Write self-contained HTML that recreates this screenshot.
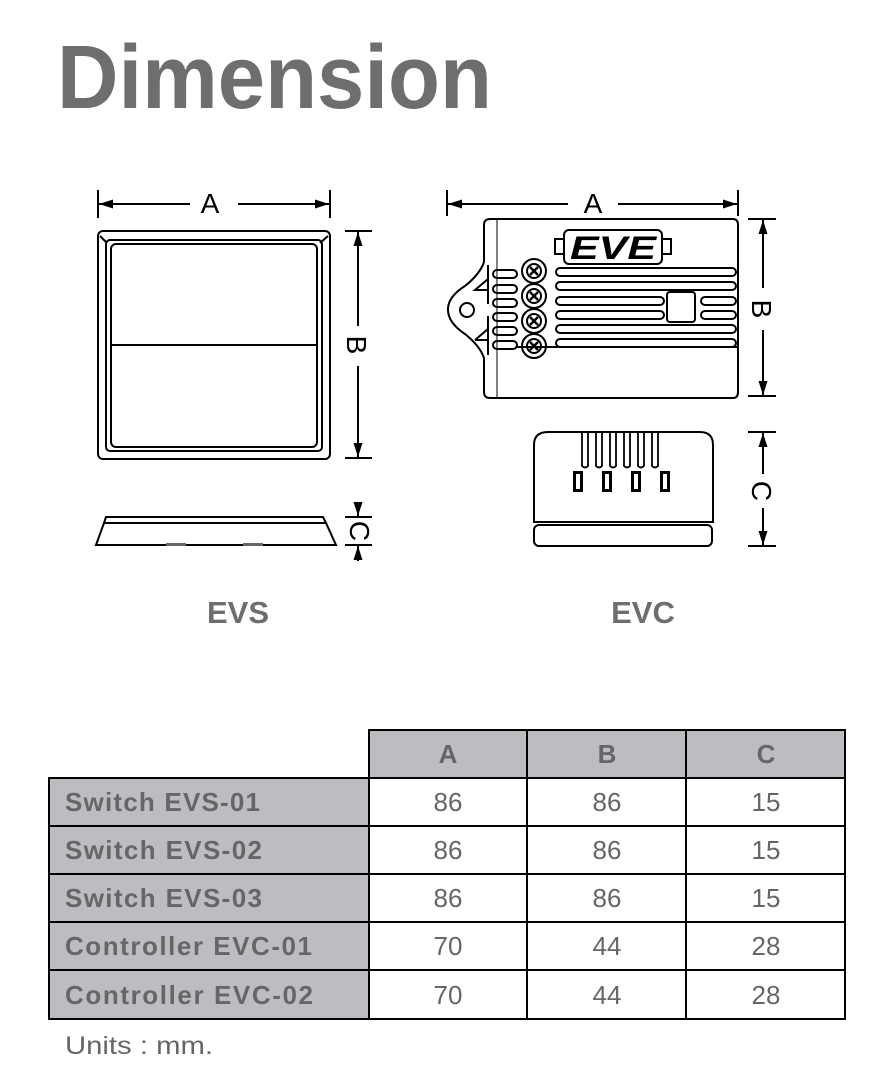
<!DOCTYPE html>
<html><head><style>
html,body{margin:0;padding:0;background:#fff;}
body{width:876px;height:1076px;position:relative;overflow:hidden;font-family:"Liberation Sans",sans-serif;}
</style></head><body>
<svg width="876" height="1076" viewBox="0 0 876 1076" xmlns="http://www.w3.org/2000/svg" style="position:absolute;left:0;top:0">
<defs>
<marker id="ar" viewBox="0 0 14 10" refX="14" refY="5" markerWidth="14" markerHeight="10" orient="auto-start-reverse" markerUnits="userSpaceOnUse"><path d="M0,0.5 L14,5 L0,9.5z" fill="#000"/></marker>
</defs>
<text x="57" y="108" font-size="90" font-weight="bold" fill="#6d6e70" textLength="435" lengthAdjust="spacingAndGlyphs">Dimension</text>

<g stroke="#000" fill="none" stroke-width="2">
<line x1="98" y1="190" x2="98" y2="218"/><line x1="330" y1="190" x2="330" y2="218"/>
<line x1="99" y1="204" x2="190" y2="204" marker-start="url(#ar)"/><line x1="238" y1="204" x2="329" y2="204" marker-end="url(#ar)"/>
<line x1="345" y1="231" x2="372" y2="231"/><line x1="345" y1="458" x2="372" y2="458"/>
<line x1="358" y1="232" x2="358" y2="326" marker-start="url(#ar)"/><line x1="358" y1="366" x2="358" y2="457" marker-end="url(#ar)"/>
<rect x="98" y="231" width="232" height="228" rx="5"/>
<rect x="106" y="240" width="216" height="211" rx="4"/>
<rect x="111" y="244" width="206" height="203" rx="5"/>
<line x1="111" y1="345" x2="317" y2="345"/>
<line x1="100" y1="236" x2="107" y2="243"/><line x1="328" y1="236" x2="320" y2="243"/>
<path d="M106,517 L323,517 L326,523 L104,523 Z"/>
<path d="M104,523 L326,523 L336,545 L96,545 Z"/>
<line x1="345" y1="517" x2="372" y2="517"/><line x1="345" y1="545" x2="372" y2="545"/>
<line x1="358" y1="502" x2="358" y2="516" marker-end="url(#ar)"/><line x1="358" y1="561" x2="358" y2="546" marker-end="url(#ar)"/>
</g>
<rect x="166" y="543" width="20" height="3" fill="#666"/><rect x="243" y="543" width="20" height="3" fill="#666"/>
<text x="210" y="213" font-size="28" text-anchor="middle" fill="#000">A</text>
<text transform="translate(347,345) rotate(90)" font-size="28" text-anchor="middle" fill="#000">B</text>
<text transform="translate(350,531) rotate(90)" font-size="28" text-anchor="middle" fill="#000">C</text>

<g stroke="#000" fill="none" stroke-width="2">
<line x1="447" y1="190" x2="447" y2="216"/><line x1="738" y1="190" x2="738" y2="216"/>
<line x1="448" y1="204" x2="568" y2="204" marker-start="url(#ar)"/><line x1="618" y1="204" x2="737" y2="204" marker-end="url(#ar)"/>
<line x1="748" y1="219" x2="776" y2="219"/><line x1="748" y1="396" x2="776" y2="396"/>
<line x1="763" y1="220" x2="763" y2="288" marker-start="url(#ar)"/><line x1="763" y1="330" x2="763" y2="395" marker-end="url(#ar)"/>
<line x1="748" y1="432" x2="776" y2="432"/><line x1="748" y1="546" x2="776" y2="546"/>
<line x1="763" y1="433" x2="763" y2="474" marker-start="url(#ar)"/><line x1="763" y1="508" x2="763" y2="545" marker-end="url(#ar)"/>
<path d="M490,219 L733,219 Q738,219 738,225 L738,392 Q738,398 733,398 L490,398 Q484,398 484,392 L484,358 Q480,346 465,334 Q447,322 448,308 Q449,296 465,286 Q480,274 484,262 L484,225 Q484,219 490,219 Z"/>
<line x1="497" y1="220" x2="497" y2="397" stroke-width="1"/>
<line x1="516" y1="347" x2="738" y2="347"/>
<circle cx="467" cy="310" r="7"/>
<path d="M488,279 L475,290 L488,290 Z M488,329 L475,340 L488,329 Z M488,329 L488,340 L475,340"/>
<rect x="564" y="230" width="98" height="34" rx="5"/>
<rect x="555" y="239" width="9" height="15"/><rect x="662" y="239" width="9" height="15"/>
<g stroke-width="2">
<rect x="493" y="270" width="24" height="8" rx="4"/><rect x="493" y="285" width="24" height="8" rx="4"/><rect x="493" y="299" width="24" height="8" rx="4"/><rect x="493" y="313" width="24" height="8" rx="4"/><rect x="493" y="327" width="24" height="8" rx="4"/><rect x="493" y="341" width="24" height="8" rx="4"/>
<line x1="488" y1="265" x2="488" y2="279"/><line x1="488" y1="290" x2="488" y2="304"/><line x1="488" y1="316" x2="488" y2="330"/><line x1="488" y1="341" x2="488" y2="355"/>
<circle cx="534" cy="271" r="12"/><circle cx="534" cy="296" r="12"/><circle cx="534" cy="321" r="12"/><circle cx="534" cy="346" r="12"/>
<circle cx="534" cy="271" r="7"/><circle cx="534" cy="296" r="7"/><circle cx="534" cy="321" r="7"/><circle cx="534" cy="346" r="7"/>
<rect x="556" y="268" width="180" height="8" rx="4"/>
<rect x="556" y="282" width="180" height="8" rx="4"/>
<rect x="556" y="297" width="108" height="8" rx="4"/>
<rect x="556" y="311" width="108" height="8" rx="4"/>
<rect x="556" y="325" width="180" height="8" rx="4"/>
<rect x="556" y="339" width="180" height="8" rx="4"/>
<rect x="701" y="297" width="35" height="8" rx="4"/><rect x="701" y="311" width="35" height="8" rx="4"/>
<rect x="667" y="292" width="28" height="30" rx="3"/>
</g>
<path d="M548,432 L700,432 Q713,432 713,445 L713,522 L534,522 L534,445 Q534,432 548,432 Z"/>
<rect x="534" y="525" width="178" height="21" rx="5"/>
<g stroke-width="1.8">
<path d="M582,432 L582,466 Q585,469 588,466 L588,432"/>
<path d="M596,432 L596,466 Q599,469 602,466 L602,432"/>
<path d="M610,432 L610,466 Q613,469 616,466 L616,432"/>
<path d="M624,432 L624,466 Q627,469 630,466 L630,432"/>
<path d="M638,432 L638,466 Q641,469 644,466 L644,432"/>
<path d="M652,432 L652,466 Q655,469 658,466 L658,432"/>
</g>
</g>
<g fill="#000">
<rect x="573" y="471" width="10" height="21"/><rect x="602" y="471" width="10" height="21"/><rect x="631" y="471" width="10" height="21"/><rect x="660" y="471" width="10" height="21"/>
</g>
<g fill="#fff"><rect x="576" y="474" width="4" height="15"/><rect x="605" y="474" width="4" height="15"/><rect x="634" y="474" width="4" height="15"/><rect x="663" y="474" width="4" height="15"/></g>
<g stroke="#000" stroke-width="2.4">
<path d="M530,267 l8,8 M538,267 l-8,8 M530,292 l8,8 M538,292 l-8,8 M530,317 l8,8 M538,317 l-8,8 M530,342 l8,8 M538,342 l-8,8"/>
</g>
<text x="613" y="259" font-size="32" font-weight="bold" font-style="italic" text-anchor="middle" fill="#000" textLength="86" lengthAdjust="spacingAndGlyphs">EVE</text>
<text x="593" y="213" font-size="28" text-anchor="middle" fill="#000">A</text>
<text transform="translate(752,309) rotate(90)" font-size="28" text-anchor="middle" fill="#000">B</text>
<text transform="translate(752,491) rotate(90)" font-size="28" text-anchor="middle" fill="#000">C</text>

<text x="238" y="623" font-size="31" font-weight="bold" text-anchor="middle" fill="#6d6e70">EVS</text>
<text x="643" y="623" font-size="31" font-weight="bold" text-anchor="middle" fill="#6d6e70">EVC</text>

<g fill="#bcbdc0">
<rect x="369" y="730" width="476" height="48"/>
<rect x="49" y="778" width="320" height="241"/>
</g>
<g stroke="#000" stroke-width="2" fill="none">
<rect x="369" y="730" width="476" height="289"/>
<rect x="49" y="778" width="796" height="241"/>
<line x1="527" y1="730" x2="527" y2="1019"/><line x1="686" y1="730" x2="686" y2="1019"/>
<line x1="369" y1="778" x2="369" y2="1019"/>
<line x1="49" y1="826" x2="845" y2="826"/><line x1="49" y1="874" x2="845" y2="874"/><line x1="49" y1="922" x2="845" y2="922"/><line x1="49" y1="970" x2="845" y2="970"/>
</g>
<g font-size="26" fill="#666" text-anchor="middle">
<text x="448" y="763" font-weight="bold">A</text><text x="607" y="763" font-weight="bold">B</text><text x="766" y="763" font-weight="bold">C</text>
<text x="448" y="811">86</text><text x="607" y="811">86</text><text x="766" y="811">15</text>
<text x="448" y="859">86</text><text x="607" y="859">86</text><text x="766" y="859">15</text>
<text x="448" y="907">86</text><text x="607" y="907">86</text><text x="766" y="907">15</text>
<text x="448" y="955">70</text><text x="607" y="955">44</text><text x="766" y="955">28</text>
<text x="448" y="1004">70</text><text x="607" y="1004">44</text><text x="766" y="1004">28</text>
</g>
<g font-size="26" font-weight="bold" fill="#666" lengthAdjust="spacingAndGlyphs">
<text x="65" y="811" textLength="195">Switch EVS-01</text>
<text x="65" y="859" textLength="197">Switch EVS-02</text>
<text x="65" y="907" textLength="197">Switch EVS-03</text>
<text x="65" y="955" textLength="247">Controller EVC-01</text>
<text x="65" y="1004" textLength="248">Controller EVC-02</text>
</g>
<text x="65" y="1054" font-size="25" fill="#666" textLength="148" lengthAdjust="spacingAndGlyphs">Units : mm.</text>
</svg>
</body></html>
